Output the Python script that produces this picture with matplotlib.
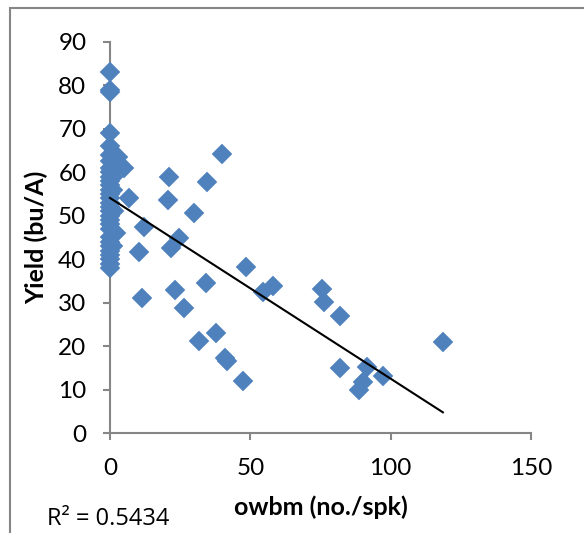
import matplotlib
matplotlib.use("Agg")
import matplotlib.pyplot as plt
from matplotlib.patches import Rectangle
import numpy as np

# ---- data ----
x_zero_col = [0, 0, 0, 0, 0, 0, 0, 0, 0, 0, 0, 0, 0, 0, 0, 0, 0, 0, 0, 0,
              0, 0, 0, 0, 0, 0, 0, 0, 0, 0, 1, 1, 1.5, 2, 1]
y_zero_col = [83, 79, 78.5, 69, 66, 64, 62.5, 61, 60, 59, 58, 57, 56, 55, 54,
              53, 52, 51, 50, 49, 48, 47, 45, 44, 43, 42, 41, 40, 39, 38,
              59, 56, 51, 46, 43]
x_other = [3, 5, 6.8, 10.4, 11.5, 12.2, 20.7, 21, 21.6, 23.2, 24.7, 26.5, 30,
           31.8, 34.3, 34.6, 37.8, 40, 40.8, 41.6, 47.5, 48.4, 54.6, 58,
           75.5, 76.2, 81.9, 82, 88.8, 90.2, 91.5, 97.2, 118.6]
y_other = [63.5, 61, 54, 41.7, 31.1, 47.5, 53.6, 59, 42.6, 32.9, 44.9, 28.8,
           50.6, 21.2, 34.5, 57.8, 23, 64.2, 17.3, 16.5, 11.9, 38.2, 32.5,
           33.8, 33.1, 30.1, 26.9, 15, 9.9, 11.8, 15.2, 13.1, 21]

trend_intercept = 54.1
trend_slope = -0.416
r2_text = "R² = 0.5434"

x_ticks = [0, 50, 100, 150]
y_ticks = [0, 10, 20, 30, 40, 50, 60, 70, 80, 90]
x_label = "owbm (no./spk)"
y_label = "Yield (bu/A)"

# ---- figure ----
plt.rcParams['font.family'] = ['Lato', 'DejaVu Sans']
W, H = 584, 533
fig = plt.figure(figsize=(W / 100, H / 100), dpi=100)
ax = fig.add_axes([110 / W, 100 / H, 421 / W, 391 / H])

xs = np.array(x_zero_col + x_other, dtype=float)
ys = np.array(y_zero_col + y_other, dtype=float)

blue = '#4F81BD'
ax.plot(xs, ys, linestyle='none', marker='D', markersize=10.3,
        markerfacecolor=blue, markeredgecolor=blue, markeredgewidth=0.3,
        zorder=3)

xt = np.array([0.0, xs.max()])
ax.plot(xt, trend_intercept + trend_slope * xt, color='black', lw=1.5,
        zorder=4)

ax.set_xlim(0, 150)
ax.set_ylim(0, 90)
ax.set_xticks(x_ticks)
ax.set_yticks(y_ticks)
gray = '#868686'
for s in ['top', 'right']:
    ax.spines[s].set_visible(False)
for s in ['left', 'bottom']:
    ax.spines[s].set_color(gray)
    ax.spines[s].set_linewidth(1.5)
    ax.spines[s].set_zorder(1)
ax.tick_params(axis='both', colors=gray, length=5, width=1.5,
               labelcolor='black', labelsize=17.5)
ax.tick_params(axis='x', pad=13)
ax.tick_params(axis='y', pad=12)
for ln in ax.lines:
    ln.set_clip_on(False)

fig.text(321 / W, 1 - 507 / H, x_label, ha='center', va='center',
         fontsize=18, fontweight='bold')
fig.text(37 / W, 1 - 237 / H, y_label, ha='center', va='center',
         rotation=90, fontsize=18, fontweight='bold')
fig.text(47 / W, 1 - 519 / H, r2_text, ha='left', va='center', fontsize=17,
         family=['Open Sans', 'DejaVu Sans'])

fig.add_artist(Rectangle((9.5 / W, -0.2), 2.0, 1.2 - 7.5 / H,
                         transform=fig.transFigure, fill=False,
                         edgecolor=gray, lw=1.5))

fig.savefig('out.png', dpi=100)
